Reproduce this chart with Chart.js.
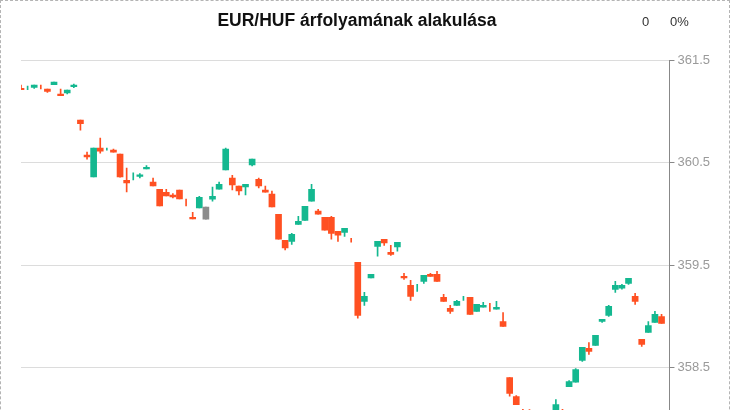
<!DOCTYPE html>
<html><head><meta charset="utf-8">
<script src="https://cdn.jsdelivr.net/npm/chart.js@4.4.1/dist/chart.umd.min.js"></script>
<style>
html,body{margin:0;padding:0;overflow:hidden;background:#fff;}
#frame{position:absolute;left:0;top:0;width:730px;height:600px;box-sizing:border-box;border:1px dashed #b4b4b4;}
#wrap{position:absolute;left:0;top:0;width:730px;height:520px;}
#title{position:absolute;left:0;top:12px;width:714px;text-align:center;font:bold 17.5px/17.5px "Liberation Sans",Arial,sans-serif;color:#111;}
.stat{position:absolute;top:15px;font:13px/13px "Liberation Sans",Arial,sans-serif;color:#333;}
</style></head>
<body>
<div id="frame"></div>
<div id="wrap"><canvas id="c" width="730" height="520" style="width:730px;height:520px"></canvas></div>
<div id="title">EUR/HUF árfolyamának alakulása</div>
<div class="stat" style="left:642px">0</div>
<div class="stat" style="left:670px">0%</div>
<script>
const openP = [361.223,361.230,361.233,361.240,361.217,361.259,361.168,361.180,361.239,360.914,
360.572,360.360,360.640,360.630,360.621,360.581,360.327,360.360,360.363,360.438,
360.308,360.239,360.210,360.181,360.230,360.110,359.966,360.057,360.064,360.142,
360.239,360.428,360.347,360.269,360.262,360.477,360.337,360.230,360.191,359.995,
359.741,359.731,359.897,359.936,360.122,360.025,359.966,359.966,359.829,359.819,
359.740,359.526,359.145,359.373,359.682,359.751,359.624,359.676,359.389,359.301,
359.280,359.340,359.409,359.409,359.184,359.077,359.106,359.170,359.184,359.047,
359.089,359.090,359.070,358.949,358.402,358.217,358.050,358.030,357.980,358.020,
357.960,358.060,358.070,358.314,358.356,358.568,358.686,358.715,358.949,359.008,
359.262,359.275,359.321,359.194,358.774,358.842,358.940,358.998];
const highP = [361.256,361.246,361.256,361.256,361.217,361.285,361.217,361.207,361.265,360.914,
360.601,360.640,360.738,360.640,360.630,360.581,360.445,360.399,360.393,360.471,
360.347,360.239,360.239,360.197,360.230,360.142,360.015,360.171,360.064,360.259,
360.308,360.640,360.376,360.269,360.288,360.533,360.347,360.269,360.220,359.995,
359.741,359.809,359.976,360.073,360.288,360.044,359.966,359.976,359.829,359.858,
359.761,359.526,359.233,359.409,359.731,359.751,359.692,359.722,359.418,359.350,
359.311,359.399,359.418,359.438,359.213,359.106,359.155,359.194,359.184,359.116,
359.135,359.125,359.145,359.037,358.402,358.226,358.092,358.090,358.050,358.060,
358.070,358.187,358.092,358.373,358.490,358.696,358.744,358.813,358.969,359.106,
359.340,359.311,359.370,359.223,358.774,358.949,359.047,359.018];
const lowP = [361.210,361.210,361.223,361.217,361.184,361.259,361.151,361.168,361.229,360.816,
360.533,360.360,360.591,360.621,360.601,360.357,360.213,360.330,360.350,360.438,
360.272,360.076,360.174,360.154,360.145,360.076,359.949,360.057,359.946,360.122,
360.239,360.428,360.233,360.184,360.184,360.467,360.252,360.210,360.066,359.751,
359.646,359.702,359.897,359.936,360.122,359.995,359.839,359.751,359.731,359.780,
359.722,358.982,359.106,359.373,359.585,359.692,359.594,359.634,359.360,359.155,
359.243,359.321,359.389,359.340,359.145,359.028,359.106,359.155,359.018,359.047,
359.089,359.047,359.070,358.901,358.220,358.138,357.950,357.930,357.940,357.920,
357.930,358.040,358.000,358.314,358.356,358.559,358.627,358.715,358.940,358.998,
359.233,359.265,359.311,359.116,358.705,358.842,358.940,358.930];
const closeP = [361.210,361.230,361.256,361.240,361.194,361.285,361.151,361.207,361.256,360.878,
360.555,360.640,360.611,360.630,360.601,360.360,360.301,360.360,360.379,360.454,
360.272,360.076,360.174,360.164,360.145,360.110,359.949,360.161,359.946,360.171,
360.288,360.630,360.281,360.223,360.288,360.533,360.272,360.210,360.066,359.751,
359.666,359.800,359.927,360.073,360.239,359.995,359.839,359.809,359.790,359.858,
359.740,359.008,359.194,359.409,359.731,359.715,359.604,359.722,359.373,359.194,
359.280,359.399,359.389,359.340,359.145,359.047,359.145,359.170,359.018,359.116,
359.106,359.090,359.086,358.901,358.246,358.138,357.980,357.960,358.020,357.950,
358.040,358.138,358.020,358.363,358.480,358.696,358.656,358.813,358.969,359.096,
359.301,359.301,359.370,359.145,358.725,358.910,359.018,358.930];
const greyCandles = [28];
const yTicks = [357.5, 358.5, 359.5, 360.5, 361.5];

const GREEN = '#14b890', RED = '#ff5022', GREY = '#8c8c8c';
const colors = openP.map((o, i) => {
  if (greyCandles.includes(i)) return GREY;
  const c = closeP[i];
  if (c > o) return GREEN;
  if (c < o) return RED;
  const pc = i > 0 ? closeP[i - 1] : c;
  return c >= pc ? GREEN : RED;
});
const wickData = highP.map((h, i) => ({x: i, y: [lowP[i], h]}));
const bodyData = openP.map((o, i) => ({x: i, y: o === closeP[i] ? null : [Math.min(o, closeP[i]), Math.max(o, closeP[i])]}));

new Chart(document.getElementById('c'), {
  type: 'bar',
  data: {datasets: [
    {label: 'body', data: bodyData, backgroundColor: colors, barThickness: 6, grouped: false, order: 0, borderWidth: 0},
    {label: 'wick', data: wickData, backgroundColor: colors, barThickness: 1, grouped: false, order: 1, borderWidth: 0}
  ]},
  options: {
    responsive: false, animation: false, devicePixelRatio: 1,
    layout: {padding: {left: 21, right: 17, top: 60, bottom: 50}},
    plugins: {legend: {display: false}, title: {display: false}, tooltip: {enabled: false}},
    scales: {
      x: {type: 'linear', display: false, offset: false, bounds: 'ticks', min: 0, max: 98.2,
          grid: {offset: false}},
      y: {
        position: 'right', min: 357.5, max: 361.5,
        afterBuildTicks: s => { s.ticks = yTicks.map(v => ({value: v})); },
        grid: {color: '#dcdcdc', tickLength: 5, tickColor: '#888'},
        border: {color: '#888'},
        ticks: {color: '#9a9a9a', padding: 3, font: {family: '"Liberation Sans", Arial, sans-serif', size: 13},
                callback: v => Number(v).toFixed(1)}
      }
    }
  }
});
</script>
</body></html>
